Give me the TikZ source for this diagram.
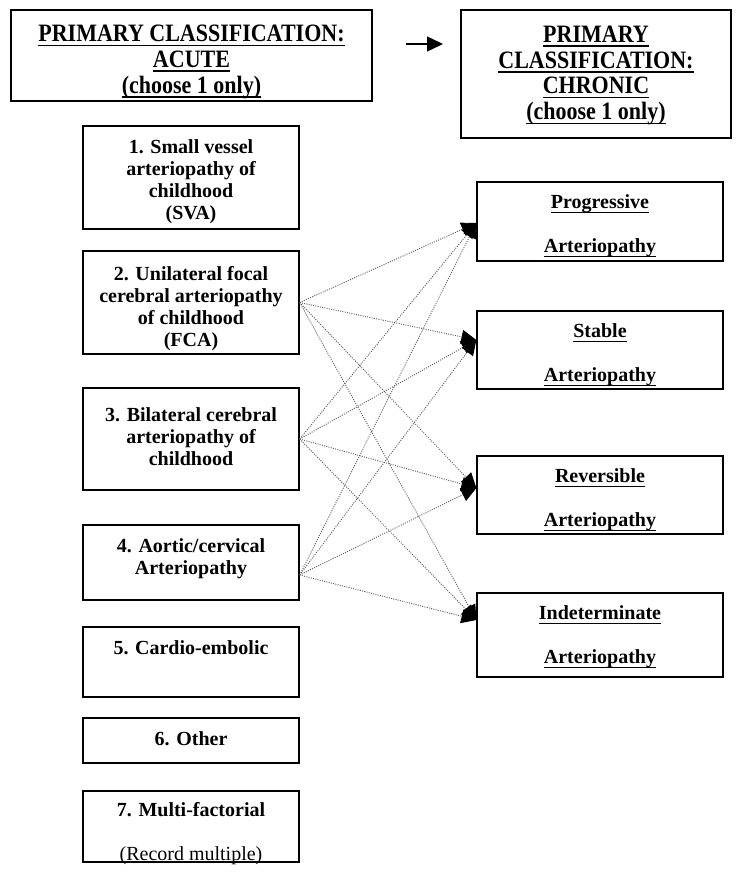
\documentclass[tikz,border=0pt]{standalone}
\usepackage{fontspec}
\setmainfont{Liberation Serif}
\newfontfamily\hdrfont{Liberation Serif}[FakeStretch=0.88]
\usetikzlibrary{arrows.meta}
\newcommand{\undl}[1]{\setbox0\hbox{#1}\rlap{\rule[-4.5pt]{\wd0}{1.6pt}}\box0}
\begin{document}
\begin{tikzpicture}[x=1pt,y=-1pt,
  tbox/.style={draw, line width=1.3pt, inner sep=0pt},
  txt/.style={align=center, font=\fontsize{20}{22}\selectfont\bfseries, inner sep=0pt},
  htxt/.style={align=center, font=\hdrfont\fontsize{25}{25.7}\selectfont\bfseries, inner sep=0pt},
  link/.style={draw=black!65, line width=0.9pt, dash pattern=on 1pt off 1.3pt,
    -{Triangle[length=15pt,width=14pt,color=black]}},
  hdrarrow/.style={line width=1.5pt, -{Triangle[length=16pt,width=15pt]}}]
\useasboundingbox (0,0) rectangle (740,873);
% headers
\node[tbox, minimum width=361pt, minimum height=91pt] (hA) at (191.5,55.5) {};
\node[htxt] (thA) at (191.5,62) {\undl{PRIMARY CLASSIFICATION:}\\\undl{ACUTE}\\\undl{(choose 1 only)}};
\node[tbox, minimum width=270pt, minimum height=128pt] (hC) at (596,74) {};
\node[htxt] (thC) at (596,75.5) {\undl{PRIMARY}\\\undl{CLASSIFICATION:}\\\undl{CHRONIC}\\\undl{(choose 1 only)}};
\coordinate (a0) at (406,44);
\coordinate (a1) at (443,44);
\draw[hdrarrow] (a0) -- (a1);
% left boxes
\node[tbox, minimum width=216pt, minimum height=103pt] (b1) at (191,177.5) {};
\node[txt] (tb1) at (191,182) {1. Small vessel\\arteriopathy of\\childhood\\(SVA)};
\node[tbox, minimum width=216pt, minimum height=103pt] (b2) at (191,302.5) {};
\node[txt] (tb2) at (191,308.5) {2. Unilateral focal\\cerebral arteriopathy\\of childhood\\(FCA)};
\node[tbox, minimum width=216pt, minimum height=102pt] (b3) at (191,439) {};
\node[txt] (tb3) at (191,437) {3. Bilateral cerebral\\arteriopathy of\\childhood};
\node[tbox, minimum width=216pt, minimum height=75pt] (b4) at (191,562.5) {};
\node[txt] (tb4) at (191,559) {4. Aortic/cervical\\Arteriopathy};
\node[tbox, minimum width=216pt, minimum height=70pt] (b5) at (191,662) {};
\node[txt] (tb5) at (191,648) {5. Cardio-embolic};
\node[tbox, minimum width=216pt, minimum height=45pt] (b6) at (191,740.5) {};
\node[txt] (tb6) at (191,738.5) {6. Other};
\node[tbox, minimum width=216pt, minimum height=71pt] (b7) at (191,826.5) {};
\node[txt] (tb7) at (191,834) {7. Multi-factorial\\[22pt]\mdseries(Record multiple)};
% right boxes
\node[tbox, minimum width=246pt, minimum height=79pt] (r1) at (600,221.5) {};
\node[txt] (tr1) at (600,226) {\undl{Progressive}\\[22pt]\undl{Arteriopathy}};
\node[tbox, minimum width=246pt, minimum height=78pt] (r2) at (600,350) {};
\node[txt] (tr2) at (600,355) {\undl{Stable}\\[22pt]\undl{Arteriopathy}};
\node[tbox, minimum width=246pt, minimum height=78pt] (r3) at (600,495) {};
\node[txt] (tr3) at (600,500) {\undl{Reversible}\\[22pt]\undl{Arteriopathy}};
\node[tbox, minimum width=246pt, minimum height=84pt] (r4) at (600,635) {};
\node[txt] (tr4) at (600,637) {\undl{Indeterminate}\\[22pt]\undl{Arteriopathy}};
% connectors
\coordinate (s2) at (b2.east);
\coordinate (s3) at (b3.east);
\coordinate (s4) at ([yshift=-12.5pt]b4.east);
\coordinate (t1) at ([yshift=-1.5pt]r1.west);
\coordinate (t2) at ([yshift=10pt]r2.west);
\coordinate (t3) at ([yshift=7pt]r3.west);
\coordinate (t4) at ([yshift=15pt]r4.west);
\foreach \s in {s2,s3,s4}
  \foreach \t in {t1,t2,t3,t4}
    \draw[link] (\s) -- (\t);
\end{tikzpicture}
\end{document}
